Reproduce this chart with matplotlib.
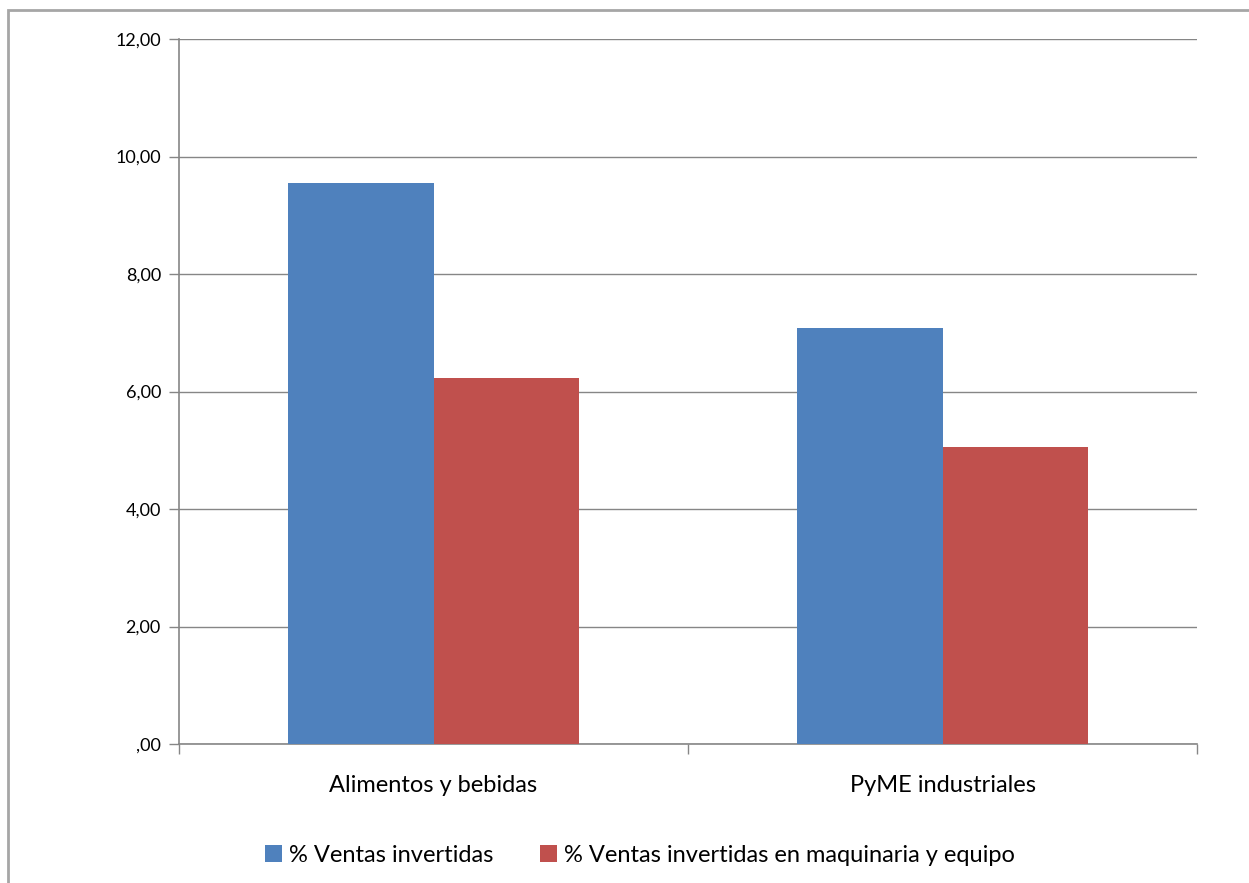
import matplotlib.pyplot as plt
from matplotlib.ticker import FuncFormatter
from matplotlib.patches import Rectangle
import numpy as np

# data
categories = ['Alimentos y bebidas', 'PyME industriales']
ventas_invertidas = [9.55, 7.08]
ventas_maquinaria = [6.23, 5.06]
series_names = ['% Ventas invertidas', '% Ventas invertidas en maquinaria y equipo']

plt.rcParams['font.family'] = ['Lato', 'DejaVu Sans']

fig = plt.figure(figsize=(12.49, 8.83), dpi=100)
# outer chart border
fig.patches.append(Rectangle((8 / 1249, -0.01), 1.1, 1 - 10 / 883 + 0.01,
                             transform=fig.transFigure, fill=False,
                             edgecolor='#a6a6a6', linewidth=2))

ax = fig.add_axes([179 / 1249, 1 - 744 / 883, 1018 / 1249, 705 / 883])

x = np.arange(len(categories))
w = 0.286
ax.bar(x - w / 2, ventas_invertidas, w, color='#4F81BD', label=series_names[0], zorder=3)
ax.bar(x + w / 2, ventas_maquinaria, w, color='#C0504D', label=series_names[1], zorder=3)

ax.set_xlim(-0.5, 1.5)
ax.set_ylim(0, 12)
ax.set_yticks(np.arange(0, 12.1, 2))


def fmt(v, pos):
    s = f'{v:.2f}'.replace('.', ',')
    return s[1:] if s.startswith('0') else s


ax.yaxis.set_major_formatter(FuncFormatter(fmt))
ax.grid(axis='y', color='#868686', linewidth=1, zorder=0)

ax.set_xticks([-0.5, 0.5, 1.5])
ax.set_xticklabels([])
ax.set_xticks(x, minor=True)
ax.set_xticklabels(categories, minor=True, fontsize=17)
ax.tick_params(axis='x', which='minor', length=0, pad=22)
ax.tick_params(axis='x', which='major', length=7, width=1, color='#868686')
ax.tick_params(axis='y', length=7, width=1, color='#868686', labelsize=13, pad=6)

for side in ['top', 'right']:
    ax.spines[side].set_visible(False)
for side in ['left', 'bottom']:
    ax.spines[side].set_color('#868686')
    ax.spines[side].set_linewidth(1.2)

fig.legend(loc='center', bbox_to_anchor=(640 / 1249, 1 - 855 / 883), ncol=2,
           frameon=False, fontsize=17, handlelength=0.7, handleheight=0.7,
           handletextpad=0.3, columnspacing=2.0)

fig.savefig('out.png', dpi=100)
